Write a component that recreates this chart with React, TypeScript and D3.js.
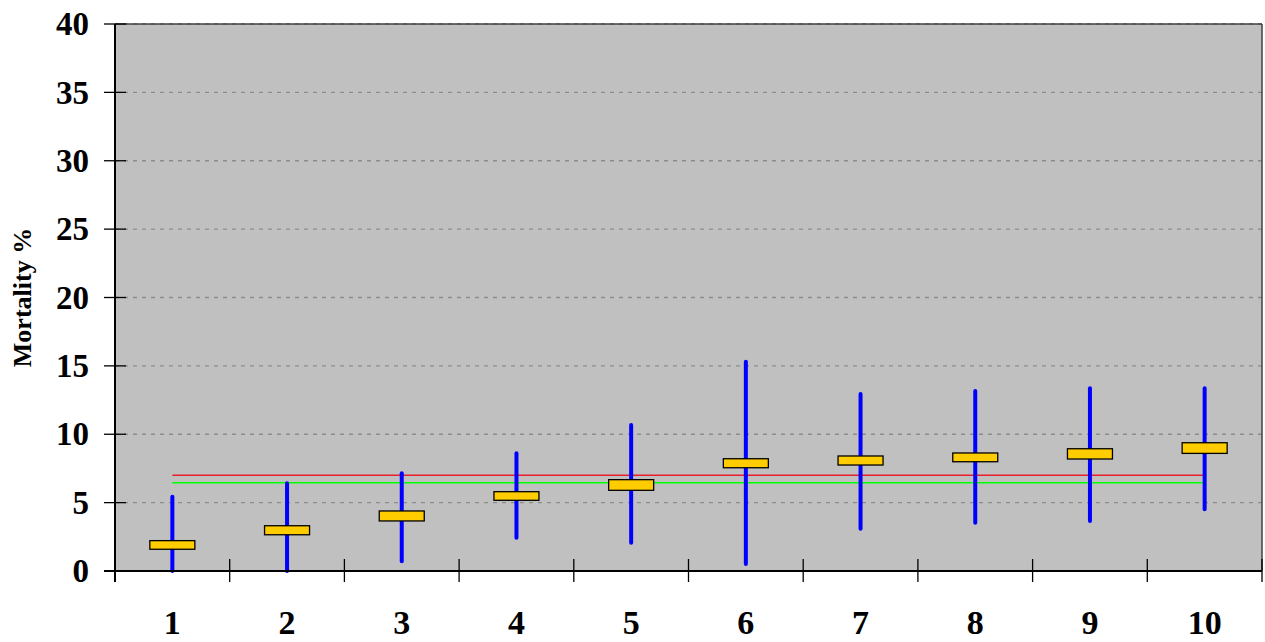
import React from 'react';
import * as d3 from 'd3';

// decile groups on the x axis
const categories = ['1', '2', '3', '4', '5', '6', '7', '8', '9', '10'];
// blue range lines (low / high)
const highValues = [5.43, 6.41, 7.14, 8.61, 10.68, 15.3, 12.94, 13.16, 13.36, 13.36];
const lowValues = [0, 0, 0.71, 2.44, 2.07, 0.51, 3.09, 3.53, 3.66, 4.51];
// yellow boxes (top / bottom)
const boxTop = [2.22, 3.31, 4.39, 5.8, 6.68, 8.21, 8.41, 8.63, 8.94, 9.38];
const boxBottom = [1.59, 2.65, 3.66, 5.17, 5.9, 7.55, 7.75, 7.99, 8.19, 8.6];
// reference lines
const redLevel = 7.0;
const greenLevel = 6.45;
const yTicks = [0, 5, 10, 15, 20, 25, 30, 35, 40];

export default function App() {
    const width = 1265, height = 642;
    const left = 115, right = 1262, top = 24, bottom = 571;

    const x = d3.scaleBand<string>().domain(categories).range([left, right]).padding(0);
    const y = d3.scaleLinear().domain([0, 40]).range([bottom, top]);
    const cx = (c: string) => (x(c) as number) + x.bandwidth() / 2;
    const boxW = 45;

    const xEdges = categories.map(c => x(c) as number).concat([right]);

    return (
        <svg width={width} height={height} style={{ position: 'absolute', left: 0, top: 0 }}
             fontFamily="'Liberation Serif', 'Times New Roman', serif">
            <rect x={left} y={top} width={right - left} height={bottom - top} fill="#c0c0c0" />

            {yTicks.filter(t => t > 0).map(t => (
                <line key={'g' + t} x1={left} x2={right} y1={y(t)} y2={y(t)}
                      stroke="#8c8c8c" strokeWidth={1.3} strokeDasharray="4,5" />
            ))}

            {/* plot border top / right */}
            <line x1={left} x2={right} y1={top} y2={top} stroke="#404040" strokeWidth={1.5} />
            <line x1={right} x2={right} y1={top} y2={bottom} stroke="#404040" strokeWidth={1.5} />

            {/* reference lines */}
            <line x1={cx(categories[0])} x2={cx(categories[categories.length - 1])}
                  y1={y(redLevel)} y2={y(redLevel)} stroke="#e8202a" strokeWidth={1.5} />
            <line x1={cx(categories[0])} x2={cx(categories[categories.length - 1])}
                  y1={y(greenLevel)} y2={y(greenLevel)} stroke="#00ff00" strokeWidth={1.5} />

            {categories.map((c, i) => (
                <g key={c}>
                    <line x1={cx(c)} x2={cx(c)} y1={y(lowValues[i])} y2={y(highValues[i])}
                          stroke="#0000ff" strokeWidth={4} strokeLinecap="round" />
                    <rect x={cx(c) - boxW / 2} y={y(boxTop[i])} width={boxW}
                          height={y(boxBottom[i]) - y(boxTop[i])}
                          fill="#ffcc00" stroke="#000" strokeWidth={1.3} />
                </g>
            ))}

            {/* axes */}
            <line x1={left} x2={left} y1={top} y2={bottom + 11} stroke="#000" strokeWidth={2} />
            <line x1={left - 11} x2={right} y1={bottom} y2={bottom} stroke="#000" strokeWidth={2} />

            {yTicks.map(t => (
                <g key={'y' + t}>
                    <line x1={left - 11} x2={left + 11} y1={y(t)} y2={y(t)} stroke="#000" strokeWidth={1.3} />
                    <text x={89} y={y(t)} dy="0.34em" textAnchor="end" fontSize={33} fontWeight="bold">{t}</text>
                </g>
            ))}

            {xEdges.map((e, i) => (
                <line key={'xt' + i} x1={e} x2={e} y1={bottom - 12} y2={bottom + 11} stroke="#000" strokeWidth={1.3} />
            ))}
            {categories.map(c => (
                <text key={'xl' + c} x={cx(c)} y={634} textAnchor="middle" fontSize={34} fontWeight="bold">{c}</text>
            ))}

            <text transform={`translate(31, ${(top + bottom) / 2}) rotate(-90)`} textAnchor="middle"
                  fontSize={26} fontWeight="bold">Mortality %</text>
        </svg>
    );
}
